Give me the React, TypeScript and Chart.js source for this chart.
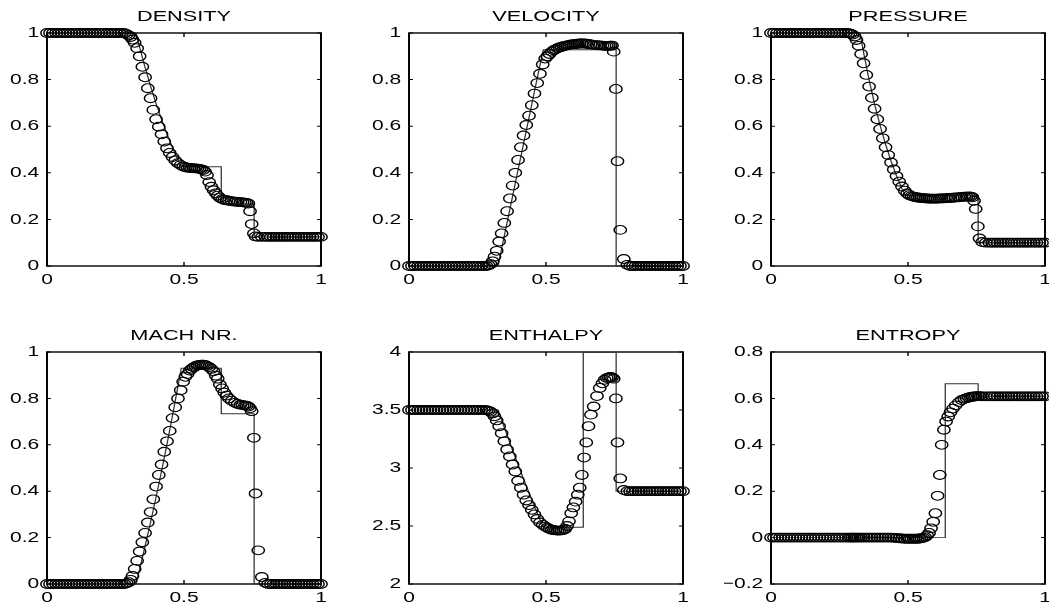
import React, { useEffect, useRef } from "react";
import { Chart, registerables } from "chart.js";

Chart.register(...registerables);

// horizontal stretch of the whole figure (the reference is widened)
const STRETCH = 1.4;

// ---------- numerical solution (adaptive grid) ----------
const gridX = [
  0, 0.011, 0.022, 0.033, 0.044, 0.055, 0.066, 0.077, 0.088, 0.099, 0.11, 0.121, 0.132, 0.143, 0.154, 0.165,
  0.176, 0.187, 0.198, 0.209, 0.22, 0.231, 0.242, 0.253, 0.264, 0.274, 0.283, 0.291, 0.298, 0.305, 0.312,
  0.32, 0.329, 0.338, 0.348, 0.358, 0.368, 0.378, 0.388, 0.398, 0.408, 0.418, 0.428, 0.438, 0.448, 0.458, 0.468,
  0.478, 0.488, 0.497, 0.505, 0.513, 0.521, 0.528, 0.535, 0.542, 0.549, 0.556, 0.563, 0.57, 0.577, 0.584,
  0.592, 0.6, 0.608, 0.616, 0.623, 0.631, 0.639, 0.647, 0.655, 0.664, 0.674, 0.686, 0.696, 0.706, 0.714, 0.722,
  0.729, 0.735, 0.741, 0.747,
  0.755, 0.761, 0.771, 0.784,
  0.797, 0.807, 0.817, 0.827, 0.837, 0.847, 0.857, 0.867, 0.877, 0.887, 0.898, 0.908, 0.918, 0.928, 0.938,
  0.948, 0.959, 0.969, 0.979, 0.989, 1.0,
];

const densityNum = [
  1, 1, 1, 1, 1, 1, 1, 1, 1, 1, 1, 1, 1, 1, 1, 1, 1, 1, 1, 1, 1, 1, 1, 1, 1, 1, 0.999, 0.995, 0.99, 0.983, 0.972,
  0.958, 0.935, 0.9, 0.855, 0.81, 0.763, 0.72, 0.67, 0.63, 0.598, 0.565, 0.534, 0.505, 0.485, 0.468, 0.453,
  0.441, 0.433, 0.427, 0.424, 0.422, 0.421, 0.42, 0.419, 0.419, 0.418, 0.417, 0.415, 0.412, 0.405, 0.39,
  0.36, 0.34, 0.325, 0.312, 0.302, 0.293, 0.287, 0.284, 0.282, 0.28, 0.278, 0.276, 0.275, 0.274, 0.273, 0.272,
  0.271, 0.268, 0.235, 0.18,
  0.14, 0.127, 0.125, 0.125,
  0.125, 0.125, 0.125, 0.125, 0.125, 0.125, 0.125, 0.125, 0.125, 0.125, 0.125, 0.125, 0.125, 0.125, 0.125,
  0.125, 0.125, 0.125, 0.125, 0.125, 0.125,
];

const velocityNum = [
  0, 0, 0, 0, 0, 0, 0, 0, 0, 0, 0, 0, 0, 0, 0, 0, 0, 0, 0, 0, 0, 0, 0, 0, 0, 0, 0, 0.003, 0.008, 0.02, 0.04,
  0.065, 0.105, 0.14, 0.185, 0.235, 0.29, 0.345, 0.4, 0.455, 0.51, 0.56, 0.605, 0.645, 0.69, 0.74, 0.785,
  0.825, 0.865, 0.89, 0.9, 0.91, 0.92, 0.926, 0.93, 0.935, 0.938, 0.94, 0.943, 0.945, 0.947, 0.949,
  0.951, 0.952, 0.953, 0.954, 0.955, 0.955, 0.955, 0.954, 0.953, 0.951, 0.949, 0.948, 0.947, 0.946, 0.945, 0.945,
  0.945, 0.946, 0.946, 0.92,
  0.76, 0.45, 0.155, 0.03,
  0.005, 0, 0, 0, 0, 0, 0, 0, 0, 0, 0, 0, 0, 0, 0, 0, 0, 0, 0, 0, 0,
];

const pressureNum = [
  1, 1, 1, 1, 1, 1, 1, 1, 1, 1, 1, 1, 1, 1, 1, 1, 1, 1, 1, 1, 1, 1, 1, 1, 1, 1, 0.999, 0.997, 0.993, 0.985, 0.97,
  0.945, 0.91, 0.87, 0.82, 0.77, 0.722, 0.675, 0.63, 0.588, 0.548, 0.51, 0.476, 0.444, 0.414, 0.386, 0.362,
  0.341, 0.323, 0.311, 0.304, 0.3, 0.297, 0.295, 0.294, 0.293, 0.292, 0.291, 0.29, 0.29, 0.289, 0.289,
  0.289, 0.289, 0.289, 0.29, 0.29, 0.29, 0.291, 0.292, 0.292, 0.293, 0.294, 0.295, 0.296, 0.297, 0.298, 0.299,
  0.298, 0.295, 0.28, 0.245,
  0.17, 0.118, 0.103, 0.1,
  0.1, 0.1, 0.1, 0.1, 0.1, 0.1, 0.1, 0.1, 0.1, 0.1, 0.1, 0.1, 0.1, 0.1, 0.1, 0.1, 0.1, 0.1, 0.1, 0.1, 0.1,
];

const machNum = [
  0, 0, 0, 0, 0, 0, 0, 0, 0, 0, 0, 0, 0, 0, 0, 0, 0, 0, 0, 0, 0, 0, 0, 0, 0, 0, 0, 0.003, 0.008, 0.018, 0.035,
  0.065, 0.1, 0.14, 0.18, 0.22, 0.265, 0.31, 0.365, 0.42, 0.47, 0.515, 0.57, 0.615, 0.66, 0.715, 0.762,
  0.8, 0.835, 0.872, 0.893, 0.905, 0.92, 0.928, 0.934, 0.939, 0.942, 0.944, 0.945, 0.945, 0.944, 0.94,
  0.935, 0.927, 0.917, 0.898, 0.885, 0.86, 0.843, 0.825, 0.812, 0.8, 0.79, 0.781, 0.776, 0.773, 0.771, 0.77,
  0.768, 0.765, 0.758, 0.745,
  0.63, 0.39, 0.145, 0.03,
  0.005, 0, 0, 0, 0, 0, 0, 0, 0, 0, 0, 0, 0, 0, 0, 0, 0, 0, 0, 0, 0,
];

const enthalpyNum = [
  3.5, 3.5, 3.5, 3.5, 3.5, 3.5, 3.5, 3.5, 3.5, 3.5, 3.5, 3.5, 3.5, 3.5, 3.5, 3.5, 3.5, 3.5, 3.5, 3.5, 3.5, 3.5,
  3.5, 3.5, 3.5, 3.5, 3.498, 3.493, 3.485, 3.47, 3.445,
  3.41, 3.36, 3.3, 3.23, 3.16, 3.1, 3.03, 2.97, 2.89, 2.83, 2.77, 2.72, 2.68, 2.64, 2.6, 2.56,
  2.53, 2.51, 2.495, 2.485, 2.475, 2.468, 2.464, 2.462, 2.46, 2.46, 2.462, 2.466, 2.475, 2.5, 2.54,
  2.61, 2.66, 2.71, 2.77, 2.83, 2.94, 3.09, 3.22, 3.36, 3.46, 3.53, 3.62, 3.69, 3.73, 3.76, 3.775,
  3.78, 3.785, 3.78, 3.77,
  3.6, 3.22, 2.91, 2.81,
  2.8, 2.8, 2.8, 2.8, 2.8, 2.8, 2.8, 2.8, 2.8, 2.8, 2.8, 2.8, 2.8, 2.8, 2.8, 2.8, 2.8, 2.8, 2.8, 2.8, 2.8,
];

const entropyNum = [
  0, 0, 0, 0, 0, 0, 0, 0, 0, 0, 0, 0, 0, 0, 0, 0, 0, 0, 0, 0, 0, 0, 0, 0, 0, 0, 0, 0, 0, 0, 0,
  0, 0, 0, 0, 0, 0, 0, 0, 0, 0, 0, 0, 0, -0.001, -0.002, -0.003,
  -0.004, -0.005, -0.005, -0.005, -0.005, -0.005, -0.005, -0.005, -0.004, -0.003, -0.001, 0.002, 0.01, 0.02, 0.04,
  0.068, 0.105, 0.18, 0.27, 0.4, 0.465, 0.5, 0.522, 0.54, 0.556, 0.57, 0.584, 0.593, 0.598, 0.601, 0.604,
  0.606, 0.607, 0.608, 0.609,
  0.61, 0.61, 0.609, 0.609,
  0.609, 0.609, 0.609, 0.609, 0.609, 0.609, 0.609, 0.609, 0.609, 0.609, 0.609, 0.609, 0.609, 0.609, 0.609,
  0.609, 0.609, 0.609, 0.609, 0.609, 0.609,
];

// ---------- exact solution ----------
const exactX = [0, 0.325, 0.338, 0.358, 0.378, 0.398, 0.418, 0.438, 0.458, 0.478, 0.49, 0.636, 0.636, 0.756, 0.756, 1];
const densityExact = [1, 1, 0.939, 0.852, 0.772, 0.697, 0.629, 0.566, 0.508, 0.455, 0.426, 0.426, 0.266, 0.266, 0.125, 0.125];
const velocityExact = [0, 0, 0.074, 0.186, 0.299, 0.412, 0.524, 0.637, 0.75, 0.862, 0.928, 0.928, 0.928, 0.928, 0, 0];
const pressureExact = [1, 1, 0.916, 0.799, 0.695, 0.604, 0.522, 0.451, 0.387, 0.332, 0.303, 0.303, 0.303, 0.303, 0.1, 0.1];
const machExact = [0, 0, 0.063, 0.163, 0.266, 0.374, 0.486, 0.603, 0.725, 0.853, 0.93, 0.93, 0.734, 0.734, 0, 0];
const enthalpyExact = [3.5, 3.5, 3.413, 3.283, 3.155, 3.03, 2.907, 2.787, 2.669, 2.554, 2.489, 2.489, 3.995, 3.995, 2.8, 2.8];
const entropyExact = [0, 0, 0, 0, 0, 0, 0, 0, 0, 0, 0, 0, 0.663, 0.663, 0.609, 0.609];

// ---------- panel titles / axes ----------
const titles = ["DENSITY", "VELOCITY", "PRESSURE", "MACH NR.", "ENTHALPY", "ENTROPY"];
const xTicks = [0, 0.5, 1];
const yRanges = [
  [0, 1, 0.2],
  [0, 1, 0.2],
  [0, 1, 0.2],
  [0, 1, 0.2],
  [2, 4, 0.5],
  [-0.2, 0.8, 0.2],
];
const numSeries = [densityNum, velocityNum, pressureNum, machNum, enthalpyNum, entropyNum];
const exactSeries = [densityExact, velocityExact, pressureExact, machExact, enthalpyExact, entropyExact];

// ---------- layout (displayed pixels) ----------
const Y_AXIS_W = 47; // displayed
const PLOT_W = 274; // displayed
const CANVAS_W_L = 251; // logical width of each canvas
const TITLE_H = 33;
const colLeft = [0, 362, 724];
const rowTop = [0, 319];
const rowH = [306, 287];
const plotH = [233, 232];

const FONT = "'Liberation Sans', Arial, Helvetica, sans-serif";

const fmt = (v: number) => {
  const r = Math.round(v * 10) / 10;
  if (Math.abs(r) < 1e-9) return "0";
  return (r < 0 ? "\u2212" : "") + String(Math.abs(r));
};

const stretchPlugin = {
  id: "stretch",
  afterInit(chart: any) {
    const c = chart.canvas as HTMLCanvasElement;
    c.width = Math.round(chart.width * STRETCH);
    c.height = chart.height;
    c.style.width = c.width + "px";
    c.style.height = chart.height + "px";
    chart.ctx.setTransform(STRETCH, 0, 0, 1, 0, 0);
  },
};

const boxPlugin = {
  id: "box",
  beforeDatasetsDraw(chart: any) {
    const { ctx, chartArea } = chart;
    const { left, top, right, bottom } = chartArea;
    const xs = chart.scales.x;
    const ys = chart.scales.y;
    ctx.save();
    ctx.strokeStyle = "#000";
    ctx.lineWidth = 1.4;
    ctx.strokeRect(left, top, right - left, bottom - top);
    ctx.lineWidth = 1;
    ctx.beginPath();
    xs.ticks.forEach((t: any) => {
      const px = xs.getPixelForValue(t.value);
      ctx.moveTo(px, bottom);
      ctx.lineTo(px, bottom - 4);
      ctx.moveTo(px, top);
      ctx.lineTo(px, top + 4);
    });
    ys.ticks.forEach((t: any) => {
      const py = ys.getPixelForValue(t.value);
      ctx.moveTo(left, py);
      ctx.lineTo(left + 2.8, py);
      ctx.moveTo(right, py);
      ctx.lineTo(right - 2.8, py);
    });
    ctx.stroke();
    ctx.restore();
  },
};

function Panel({ index }: { index: number }) {
  const ref = useRef<HTMLCanvasElement>(null);
  const col = index % 3;
  const row = Math.floor(index / 3);
  const H = rowH[row];
  useEffect(() => {
    const canvas = ref.current!;
    canvas.width = CANVAS_W_L;
    canvas.height = H;
    canvas.style.width = "";
    canvas.style.height = "";
    const [yMin, yMax, yStep] = yRanges[index];
    const yAxisW = Y_AXIS_W / STRETCH;
    const plotW = PLOT_W / STRETCH;
    const rightPad = CANVAS_W_L - yAxisW - plotW;
    const xAxisH = H - TITLE_H - plotH[row];
    const num = numSeries[index];
    const ex = exactSeries[index];
    const chart = new Chart(canvas, {
      type: "scatter",
      data: {
        datasets: [
          {
            data: gridX.map((x, i) => ({ x, y: num[i] })),
            pointStyle: "circle",
            pointRadius: 4.4,
            pointBorderWidth: 1.05,
            pointBorderColor: "#000",
            pointBackgroundColor: "rgba(0,0,0,0)",
            showLine: false,
            clip: false,
          } as any,
          {
            data: exactX.map((x, i) => ({ x, y: ex[i] })),
            showLine: true,
            borderColor: "#333",
            borderWidth: 0.9,
            pointRadius: 0,
            tension: 0,
            fill: false,
            clip: false,
          } as any,
        ],
      },
      options: {
        animation: false,
        responsive: false,
        devicePixelRatio: 1,
        events: [],
        layout: { padding: { left: 0, top: 0, right: rightPad, bottom: 0 } },
        plugins: {
          legend: { display: false },
          tooltip: { enabled: false },
          title: {
            display: true,
            text: titles[index],
            fullSize: false,
            color: "#000",
            font: { family: FONT, size: 15.5, weight: "normal", lineHeight: 1.2 },
            padding: { top: (TITLE_H - 15.5 * 1.2) / 2, bottom: (TITLE_H - 15.5 * 1.2) / 2 },
          },
        },
        scales: {
          x: {
            type: "linear",
            position: "bottom",
            min: 0,
            max: 1,
            afterBuildTicks: (s: any) => {
              s.ticks = xTicks.map((v) => ({ value: v }));
            },
            ticks: {
              color: "#000",
              font: { family: FONT, size: 15 },
              padding: 5,
              maxRotation: 0,
              autoSkip: false,
              callback: (v: any) => fmt(Number(v)),
            },
            grid: { display: false, drawTicks: false, tickLength: 0 },
            border: { display: false },
            afterFit: (s: any) => {
              s.height = xAxisH;
              s.paddingLeft = 0;
              s.paddingRight = 0;
              s.paddingTop = 0;
              s.paddingBottom = 0;
            },
          },
          y: {
            type: "linear",
            position: "left",
            min: yMin,
            max: yMax,
            ticks: {
              stepSize: yStep,
              color: "#000",
              font: { family: FONT, size: 15 },
              padding: 5.5,
              autoSkip: false,
              callback: (v: any) => fmt(Number(v)),
            },
            grid: { display: false, drawTicks: false, tickLength: 0 },
            border: { display: false },
            afterFit: (s: any) => {
              s.width = yAxisW;
              s.paddingLeft = 0;
              s.paddingRight = 0;
              s.paddingTop = 0;
              s.paddingBottom = 0;
            },
          },
        },
      } as any,
      plugins: [stretchPlugin, boxPlugin],
    });
    return () => chart.destroy();
  }, []);
  return (
    <canvas
      ref={ref}
      width={CANVAS_W_L}
      height={H}
      style={{ position: "absolute", left: colLeft[col], top: rowTop[row] }}
    />
  );
}

export default function App() {
  return (
    <div
      style={{
        position: "fixed",
        left: 0,
        top: 0,
        width: 1049,
        height: 606,
        overflow: "hidden",
        background: "#fff",
      }}
    >
      {[0, 1, 2, 3, 4, 5].map((i) => (
        <Panel key={i} index={i} />
      ))}
    </div>
  );
}
